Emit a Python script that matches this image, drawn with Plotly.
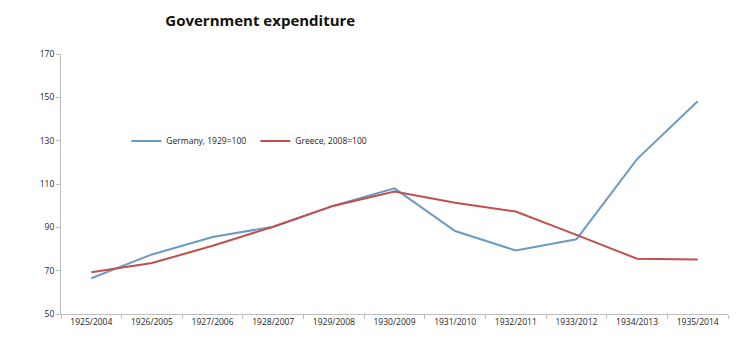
import plotly.graph_objects as go

categories = ["1925/2004", "1926/2005", "1927/2006", "1928/2007", "1929/2008", "1930/2009",
              "1931/2010", "1932/2011", "1933/2012", "1934/2013", "1935/2014"]
germany = [66.5, 77.5, 85.5, 90.3, 100, 108, 88.3, 79.3, 84.5, 121.5, 148.2]
greece = [69.3, 73.5, 81.5, 90.3, 100, 106.5, 101.3, 97.3, 86.5, 75.5, 75.2]
y_ticks = [50, 70, 90, 110, 130, 150, 170]

font = "Open Sans, Liberation Sans, sans-serif"

fig = go.Figure()
fig.add_trace(go.Scatter(x=categories, y=germany, mode="lines", name="Germany, 1929=100",
                         line=dict(color="#6b9ac4", width=2)))
fig.add_trace(go.Scatter(x=categories, y=greece, mode="lines", name="Greece, 2008=100",
                         line=dict(color="#c0504d", width=2)))

fig.update_layout(
    width=750, height=345,
    margin=dict(l=61, r=22, t=54, b=31),
    paper_bgcolor="white", plot_bgcolor="white",
    font=dict(family=font, size=9, color="#222"),
    title=dict(text="<b>Government expenditure</b>", x=0.347, xanchor="center",
               y=0.94, yanchor="middle", font=dict(family=font, size=15, color="#111")),
    legend=dict(orientation="h", x=0.098, y=0.665, xanchor="left", yanchor="middle",
                bgcolor="rgba(0,0,0,0)", font=dict(size=8.5), itemwidth=30,
                entrywidth=84, entrywidthmode="pixels",
                traceorder="normal"),
    showlegend=True,
)
fig.update_xaxes(type="category", range=[-0.5, 10.5], showline=True, linecolor="#bfbfbf",
                 linewidth=1, ticks="outside", tickcolor="#bfbfbf", ticklen=4,
                 tickson="boundaries", showgrid=False, zeroline=False,
                 tickfont=dict(size=8.5))
fig.update_yaxes(range=[50, 170], tickvals=y_ticks, showline=True, linecolor="#bfbfbf",
                 linewidth=1, ticks="outside", tickcolor="#bfbfbf", ticklen=4,
                 showgrid=False, zeroline=False, tickfont=dict(size=8.5))

fig.write_html("out.html")
